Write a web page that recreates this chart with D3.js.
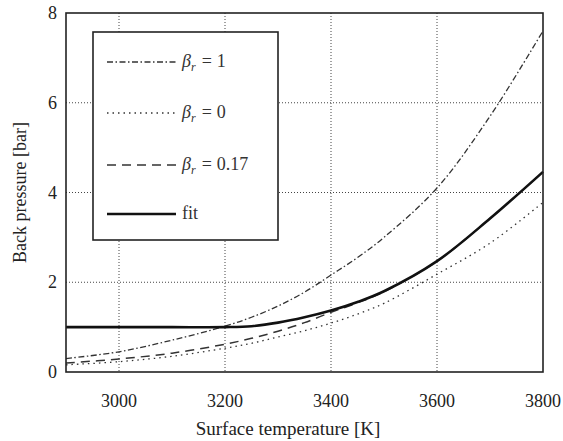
<!DOCTYPE html>
<html>
<head>
<meta charset="utf-8">
<script src="https://cdn.jsdelivr.net/npm/d3@7"></script>
<style>
  body { margin: 0; background: #fff; }
  svg text { font-family: "Times New Roman", "Liberation Serif", "DejaVu Serif", serif; }
</style>
</head>
<body>
<svg id="chart" width="563" height="441"></svg>
<script>
// Back pressure vs surface temperature.
const temps = [2900, 3000, 3100, 3200, 3250, 3300, 3350, 3400, 3450, 3500, 3600, 3700, 3800];
const beta1 = [0.30, 0.45, 0.71, 1.02, 1.22, 1.47, 1.78, 2.16, 2.55, 3.00, 4.10, 5.70, 7.60];
const beta0 = [0.16, 0.23, 0.35, 0.53, 0.64, 0.78, 0.92, 1.09, 1.29, 1.53, 2.18, 2.87, 3.78];
const beta017 = [0.20, 0.29, 0.42, 0.62, 0.75, 0.91, 1.10, 1.33, 1.54, 1.79, 2.47, 3.42, 4.46];
const fit = [1.00, 1.00, 1.00, 1.00, 1.02, 1.10, 1.22, 1.37, 1.56, 1.80, 2.47, 3.42, 4.46];

const xTicks = [3000, 3200, 3400, 3600, 3800];
const yTicks = [0, 2, 4, 6, 8];

const series = [
  { label: '1',    values: beta1,   dash: '6,2.5,1.5,2.5', width: 1.3, color: '#333' },
  { label: '0',    values: beta0,   dash: '1.5,4',         width: 1.3, color: '#333' },
  { label: '0.17', values: beta017, dash: '9,6',           width: 1.5, color: '#333' },
  { label: 'fit',  values: fit,     dash: null,            width: 2.6, color: '#111' }
];

const svg = d3.select('#chart');
const m = { left: 66, top: 13, right: 543, bottom: 372 };

const x = d3.scaleLinear().domain([2900, 3800]).range([m.left, m.right]);
const y = d3.scaleLinear().domain([0, 8]).range([m.bottom, m.top]);

// dotted grid
const grid = svg.append('g')
    .attr('stroke', '#444')
    .attr('stroke-width', 1)
    .attr('stroke-dasharray', '1,2');
grid.selectAll('line.gx')
  .data(xTicks.filter(t => t < 3800))
  .join('line')
    .attr('x1', d => x(d)).attr('x2', d => x(d))
    .attr('y1', m.top).attr('y2', m.bottom);
grid.selectAll('line.gy')
  .data(yTicks.filter(t => t > 0 && t < 8))
  .join('line')
    .attr('x1', m.left).attr('x2', m.right)
    .attr('y1', d => y(d)).attr('y2', d => y(d));

// curves
const line = d3.line().x((d, i) => x(temps[i])).y(d => y(d)).curve(d3.curveCatmullRom.alpha(0.5));
svg.append('g').selectAll('path')
  .data(series)
  .join('path')
    .attr('fill', 'none')
    .attr('stroke', d => d.color)
    .attr('stroke-width', d => d.width)
    .attr('stroke-dasharray', d => d.dash)
    .attr('d', d => line(d.values));

// frame
svg.append('rect')
    .attr('x', m.left).attr('y', m.top)
    .attr('width', m.right - m.left).attr('height', m.bottom - m.top)
    .attr('fill', 'none')
    .attr('stroke', '#222')
    .attr('stroke-width', 1.6);

// tick labels
svg.append('g')
    .attr('font-size', 18)
    .attr('fill', '#222')
    .attr('text-anchor', 'middle')
  .selectAll('text')
  .data(xTicks)
  .join('text')
    .attr('x', d => x(d))
    .attr('y', 407)
    .text(d => d);

svg.append('g')
    .attr('font-size', 18)
    .attr('fill', '#222')
    .attr('text-anchor', 'end')
  .selectAll('text')
  .data(yTicks)
  .join('text')
    .attr('x', 57)
    .attr('y', d => y(d) + 6)
    .text(d => d);

// axis titles
svg.append('text')
    .attr('x', 288)
    .attr('y', 435)
    .attr('text-anchor', 'middle')
    .attr('font-size', 19)
    .attr('fill', '#222')
    .text('Surface temperature [K]');

svg.append('text')
    .attr('transform', `translate(26,${(m.top + m.bottom) / 2}) rotate(-90)`)
    .attr('text-anchor', 'middle')
    .attr('font-size', 18)
    .attr('fill', '#222')
    .text('Back pressure [bar]');

// legend
const lg = svg.append('g');
lg.append('rect')
    .attr('x', 93).attr('y', 32)
    .attr('width', 185).attr('height', 208)
    .attr('fill', '#fff')
    .attr('stroke', '#222')
    .attr('stroke-width', 1.6);

const rowY = [62, 113, 165, 214];
const rows = lg.selectAll('g.row')
  .data(series)
  .join('g')
    .attr('transform', (d, i) => `translate(0,${rowY[i]})`);

rows.append('line')
    .attr('x1', 107).attr('x2', 176)
    .attr('stroke', d => d.color)
    .attr('stroke-width', d => d.width)
    .attr('stroke-dasharray', d => d.dash);

rows.append('text')
    .attr('x', 182)
    .attr('y', 5)
    .attr('font-size', 18)
    .attr('fill', '#333')
    .each(function(d) {
      const t = d3.select(this);
      if (d.label === 'fit') { t.text('fit'); return; }
      t.append('tspan').attr('font-style', 'italic').text('β');
      t.append('tspan').attr('font-style', 'italic').attr('font-size', 12).attr('dy', 4).text('r');
      t.append('tspan').attr('dy', -4).attr('dx', 6).text('=');
      t.append('tspan').attr('dx', 5).text(d.label);
    });
</script>
</body>
</html>
